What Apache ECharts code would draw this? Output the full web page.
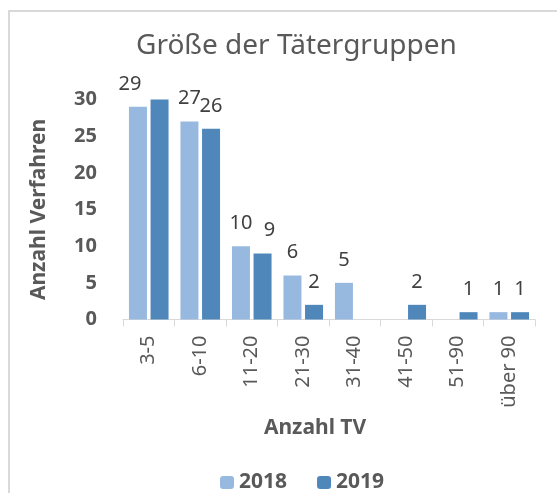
<!DOCTYPE html>
<html>
<head>
<meta charset="utf-8">
<script src="https://cdn.jsdelivr.net/npm/echarts@6/dist/echarts.min.js"></script>
<style>
  html, body { margin: 0; padding: 0; background: #fff; }
  #mainDiv { width: 557px; height: 493px; }
</style>
</head>
<body>
<div id="mainDiv"></div>
<script>
// Daten
const categories = ['3-5', '6-10', '11-20', '21-30', '31-40', '41-50', '51-90', 'über 90'];
const values2018 = [29, 27, 10, 6, 5, null, null, 1];
const values2019 = [30, 26, 9, 2, null, 2, 1, 1];
const yMin = 0;
const yMax = 30;
const yStep = 5;

// Beschriftungen, die im Original verschoben oder ausgeblendet sind
const labelNudge = { '2018': { 0: -8 }, '2019': { 2: 7 } };
const labelHidden = { '2019': [0] };

const font = '"Noto Sans", "Open Sans", sans-serif';

function buildData(vals, name) {
  return vals.map((v, i) => {
    const item = { value: v == null ? '-' : v };
    const dx = (labelNudge[name] || {})[i];
    if (dx) item.label = { offset: [dx, 0] };
    if ((labelHidden[name] || []).includes(i)) item.label = { show: false };
    return item;
  });
}

const barLabel = {
  show: true,
  position: 'top',
  distance: 13,
  color: '#404040',
  fontSize: 20,
  fontFamily: font
};

let myChart = echarts.init(document.getElementById('mainDiv'));
myChart.setOption({
  animation: false,
  textStyle: { fontFamily: font },
  graphic: [{
    type: 'rect',
    shape: { x: 9, y: 11, width: 600, height: 600 },
    style: { fill: 'none', stroke: '#d9d9d9', lineWidth: 2 },
    silent: true
  }],
  title: {
    text: 'Größe der Tätergruppen',
    left: 131,
    top: 27,
    textStyle: { fontSize: 28, fontWeight: 'normal', color: '#595959', fontFamily: font }
  },
  legend: {
    data: ['2018', '2019'],
    left: 215,
    top: 467,
    itemWidth: 14,
    itemHeight: 13,
    itemGap: 30,
    textStyle: { fontSize: 21, fontWeight: 'bold', color: '#595959', fontFamily: font }
  },
  grid: {
    left: 123,
    right: 22,
    top: 99.5,
    bottom: 173.5
  },
  xAxis: {
    type: 'category',
    data: categories,
    name: 'Anzahl TV',
    nameLocation: 'middle',
    nameGap: 98,
    nameTextStyle: { fontSize: 21, fontWeight: 'bold', color: '#595959', padding: [0, 28, 0, 0] },
    axisLine: { lineStyle: { color: '#d9d9d9', width: 1 } },
    axisTick: { show: true, length: 7, lineStyle: { color: '#d9d9d9' } },
    axisLabel: { rotate: 90, margin: 16, fontSize: 20, color: '#595959', fontFamily: font }
  },
  yAxis: {
    type: 'value',
    min: yMin,
    max: yMax,
    interval: yStep,
    name: 'Anzahl Verfahren',
    nameLocation: 'middle',
    nameGap: 73,
    nameRotate: 90,
    nameTextStyle: { fontSize: 21, fontWeight: 'bold', color: '#595959' },
    axisLine: { show: false },
    axisTick: { show: false },
    splitLine: { show: false },
    axisLabel: { margin: 26, fontSize: 20, fontWeight: 'bold', color: '#595959', fontFamily: font }
  },
  series: [{
    name: '2018',
    type: 'bar',
    barWidth: 18,
    barGap: '20%',
    itemStyle: { color: '#97b9e0' },
    label: barLabel,
    data: buildData(values2018, '2018')
  }, {
    name: '2019',
    type: 'bar',
    barWidth: 18,
    itemStyle: { color: '#4f87ba' },
    label: barLabel,
    data: buildData(values2019, '2019')
  }]
});
</script>
</body>
</html>
